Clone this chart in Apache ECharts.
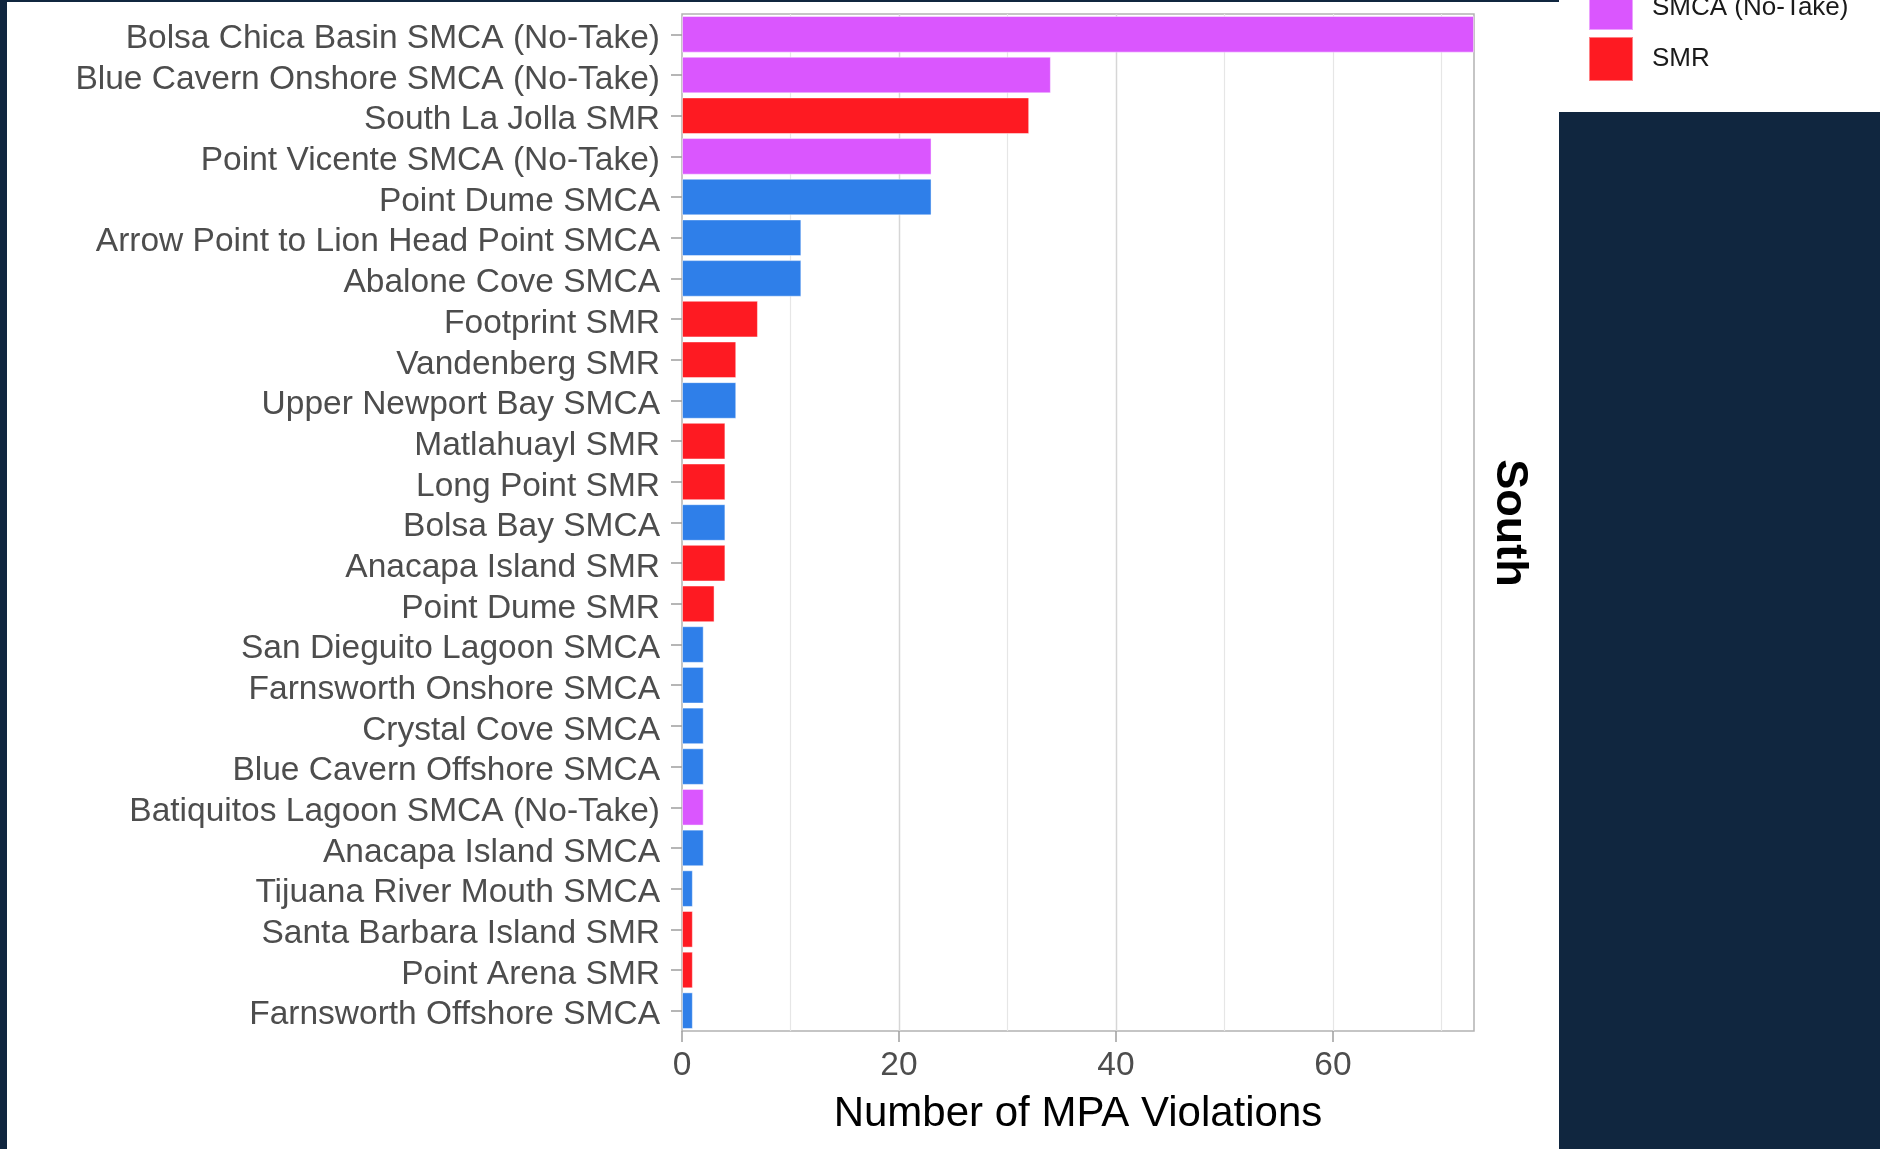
<!DOCTYPE html>
<html>
<head>
<meta charset="utf-8">
<script src="https://cdn.jsdelivr.net/npm/echarts@6/dist/echarts.min.js"></script>
<style>
  html, body { margin: 0; padding: 0; background: #10263f; }
  #chart { width: 1880px; height: 1149px; }
</style>
</head>
<body>
<div id="chart"></div>
<script>
// MPA names, top to bottom
var mpaNames = [
  'Bolsa Chica Basin SMCA (No-Take)',
  'Blue Cavern Onshore SMCA (No-Take)',
  'South La Jolla SMR',
  'Point Vicente SMCA (No-Take)',
  'Point Dume SMCA',
  'Arrow Point to Lion Head Point SMCA',
  'Abalone Cove SMCA',
  'Footprint SMR',
  'Vandenberg SMR',
  'Upper Newport Bay SMCA',
  'Matlahuayl SMR',
  'Long Point SMR',
  'Bolsa Bay SMCA',
  'Anacapa Island SMR',
  'Point Dume SMR',
  'San Dieguito Lagoon SMCA',
  'Farnsworth Onshore SMCA',
  'Crystal Cove SMCA',
  'Blue Cavern Offshore SMCA',
  'Batiquitos Lagoon SMCA (No-Take)',
  'Anacapa Island SMCA',
  'Tijuana River Mouth SMCA',
  'Santa Barbara Island SMR',
  'Point Arena SMR',
  'Farnsworth Offshore SMCA'
];
var violations = [73, 34, 32, 23, 23, 11, 11, 7, 5, 5, 4, 4, 4, 4, 3, 2, 2, 2, 2, 2, 2, 1, 1, 1, 1];
var mpaTypes = [
  'SMCA (No-Take)', 'SMCA (No-Take)', 'SMR', 'SMCA (No-Take)', 'SMCA',
  'SMCA', 'SMCA', 'SMR', 'SMR', 'SMCA',
  'SMR', 'SMR', 'SMCA', 'SMR', 'SMR',
  'SMCA', 'SMCA', 'SMCA', 'SMCA', 'SMCA (No-Take)',
  'SMCA', 'SMCA', 'SMR', 'SMR', 'SMCA'
];
var typeNames = ['SMCA', 'SMCA (No-Take)', 'SMR'];
var typeColors = { 'SMCA': '#2f7fe9', 'SMCA (No-Take)': '#da56fe', 'SMR': '#fe1a22' };
var xTicks = [0, 20, 40, 60];
var xMax = 73;

var chart = echarts.init(document.getElementById('chart'));

// one stacked series per MPA type so the legend picks them up
var series = typeNames.map(function (t) {
  return {
    name: t,
    type: 'bar',
    stack: 'all',
    barWidth: '90%',
    xAxisIndex: 0,
    itemStyle: {
      color: typeColors[t],
      borderColor: 'rgba(255,255,255,0.45)',
      borderWidth: 1
    },
    data: violations.map(function (v, i) { return mpaTypes[i] === t ? v : '-'; })
  };
});

var font = 'Liberation Sans, Arial, Helvetica, sans-serif';

chart.setOption({
  animation: false,
  backgroundColor: 'transparent',
  textStyle: { fontFamily: font },
  graphic: [
    { type: 'rect', z: -10, shape: { x: 7, y: 2, width: 1552, height: 1147 }, style: { fill: '#ffffff' } },
    { type: 'rect', z: -10, shape: { x: 1559, y: 0, width: 321, height: 112 }, style: { fill: '#ffffff' } },
    {
      type: 'text', x: 1509, y: 523, rotation: -Math.PI / 2,
      style: {
        text: 'South', fill: '#000000', font: 'bold 45px ' + font,
        align: 'center', verticalAlign: 'middle'
      }
    }
  ],
  legend: {
    orient: 'vertical',
    left: 1588,
    top: -15,
    padding: 0,
    data: ['SMCA (No-Take)', 'SMR'],
    icon: 'rect',
    itemWidth: 44,
    itemHeight: 44,
    itemGap: 5,
    selectedMode: false,
    textStyle: { fontSize: 26, color: '#1a1a1a', fontFamily: font, padding: [0, 0, 0, 14] }
  },
  grid: {
    left: 682,
    right: 406,
    top: 14,
    bottom: 118,
    show: true,
    borderColor: '#b3b3b3',
    borderWidth: 1.5,
    backgroundColor: 'transparent'
  },
  xAxis: [{
    type: 'value',
    min: 0,
    max: xMax,
    interval: 20,
    name: 'Number of MPA Violations',
    nameLocation: 'middle',
    nameGap: 62,
    nameTextStyle: { fontSize: 42, color: '#000000', fontFamily: font },
    axisLine: { show: false },
    axisTick: {
      show: true, length: 11, customValues: xTicks,
      lineStyle: { color: '#9e9e9e', width: 1.5 }
    },
    axisLabel: {
      customValues: xTicks,
      fontSize: 33.5, color: '#4d4d4d', margin: 18, fontFamily: font
    },
    splitLine: {
      show: true, showMinLine: false, showMaxLine: false,
      lineStyle: { color: '#d6d6d6', width: 1.4 }
    },
    z: 2
  }, {
    // minor grid lines every 10
    type: 'value',
    min: 0,
    max: xMax,
    interval: 10,
    position: 'bottom',
    axisLine: { show: false },
    axisTick: { show: false },
    axisLabel: { show: false },
    splitLine: {
      show: true, showMinLine: false, showMaxLine: false,
      lineStyle: { color: '#e6e6e6', width: 1.2 }
    },
    z: 1
  }],
  yAxis: {
    type: 'category',
    inverse: true,
    data: mpaNames,
    axisLine: { show: false },
    axisTick: { show: true, length: 11, alignWithLabel: true, lineStyle: { color: '#9e9e9e', width: 1.5 } },
    axisLabel: {
      interval: 0,
      margin: 22,
      formatter: function (v) { return '{n|' + v + '}'; },
      rich: {
        n: { fontSize: 33.5, color: '#4d4d4d', fontFamily: font, padding: [9, 0, 0, 0] }
      }
    },
    splitLine: { show: false }
  },
  series: series
});
</script>
</body>
</html>
